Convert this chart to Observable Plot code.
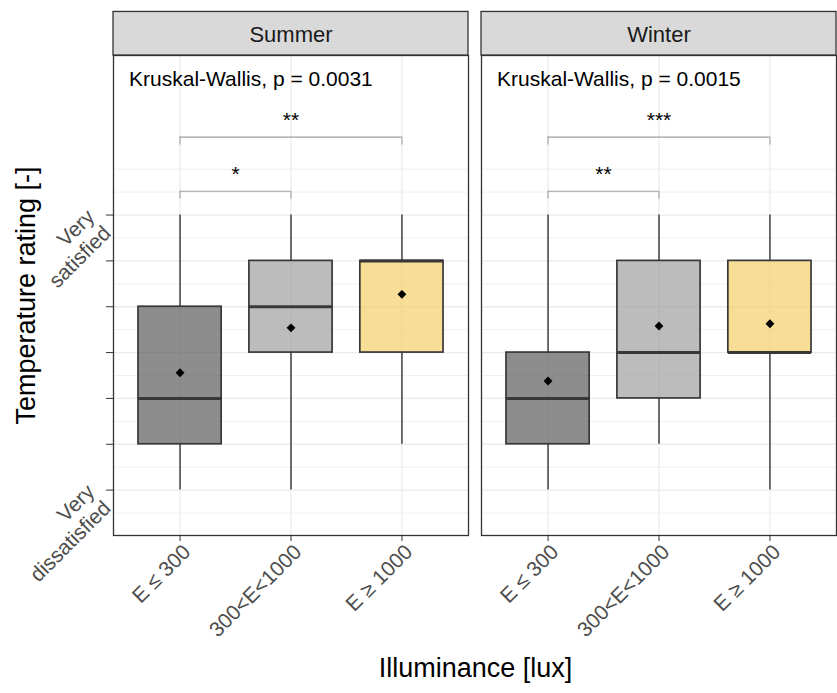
<!DOCTYPE html>
<html>
<head>
<meta charset="utf-8">
<script src="https://cdn.jsdelivr.net/npm/d3@7"></script>
<script src="https://cdn.jsdelivr.net/npm/@observablehq/plot@0.6"></script>
<style>
  body { margin: 0; background: #fff; }
  #chart svg { display: block; }
</style>
</head>
<body>
<div id="chart"></div>
<script>
// Facets and illuminance groups
const seasons = ["Summer", "Winter"];
const groups = ["E ≤ 300", "300<E<1000", "E ≥ 1000"];
const groupFills = ["#5c5c5c", "#a0a0a0", "#f4ce6a"];

// Box statistics per season, in group order (rating 1 = very dissatisfied … 7 = very satisfied)
const summerLow = [1, 1, 2];
const summerQ1 = [2, 4, 4];
const summerMedian = [3, 5, 6];
const summerQ3 = [5, 6, 6];
const summerHigh = [7, 7, 7];
const summerMean = [3.56, 4.54, 5.27];

const winterLow = [1, 2, 1];
const winterQ1 = [2, 3, 4];
const winterMedian = [3, 4, 4];
const winterQ3 = [4, 6, 6];
const winterHigh = [7, 7, 7];
const winterMean = [3.38, 4.58, 4.63];

// Global test per season
const kruskalLabels = ["Kruskal-Wallis, p = 0.0031", "Kruskal-Wallis, p = 0.0015"];

// Pairwise comparisons (group indices, bracket height, significance)
const pairFrom = [1, 1];
const pairTo = [2, 3];
const pairHeight = [7.52, 8.70];
const summerStars = ["*", "**"];
const winterStars = ["**", "***"];

// Axis ticks
const groupTicks = [1, 2, 3];
const ratingTicks = [1, 2, 3, 4, 5, 6, 7];
const ratingMinor = [0.5, 1.5, 2.5, 3.5, 4.5, 5.5, 6.5, 7.5, 8];
const ratingLabels = {1: "Very\ndissatisfied", 7: "Very\nsatisfied"};

// Layout constants (data units)
const yMin = 0.01, yMax = 10.48;
const stripTop = 11.43;
const tipLength = 0.17;
const boxHalf = 0.375;
const kruskalX = 0.54, kruskalY = 9.96;

const stats = {
  Summer: {low: summerLow, q1: summerQ1, median: summerMedian, q3: summerQ3, high: summerHigh, mean: summerMean},
  Winter: {low: winterLow, q1: winterQ1, median: winterMedian, q3: winterQ3, high: winterHigh, mean: winterMean}
};

const boxes = seasons.flatMap(season => groups.map((group, i) => ({
  season, group, pos: i + 1,
  low: stats[season].low[i], q1: stats[season].q1[i], median: stats[season].median[i],
  q3: stats[season].q3[i], high: stats[season].high[i], mean: stats[season].mean[i]
})));

const brackets = seasons.flatMap(season => pairFrom.map((from, j) => ({
  season, from, to: pairTo[j], y: pairHeight[j],
  stars: (season === "Summer" ? summerStars : winterStars)[j]
})));

const kruskal = seasons.map((season, i) => ({season, label: kruskalLabels[i]}));

const font = "'Liberation Sans', Arial, Helvetica, sans-serif";

const chart = Plot.plot({
  width: 837,
  height: 693,
  marginLeft: 112,
  marginRight: 1,
  marginTop: 55,
  marginBottom: 158,
  style: {fontFamily: font, background: "#fff", overflow: "visible"},
  fx: {domain: seasons, paddingInner: 0.0366, paddingOuter: 0, axis: null},
  x: {domain: [0.4, 3.6], axis: null},
  y: {domain: [yMin, yMax], axis: null},
  color: {domain: groups, range: groupFills},
  marks: [
    // panel grid
    Plot.ruleY(ratingMinor, {stroke: "#ececec", strokeWidth: 0.8}),
    Plot.ruleY(ratingTicks, {stroke: "#ebebeb", strokeWidth: 1.3}),
    Plot.ruleX(groupTicks, {stroke: "#ebebeb", strokeWidth: 1.3}),

    // whiskers
    Plot.ruleX(boxes, {fx: "season", x: "pos", y1: "low", y2: "q1", stroke: "#333", strokeWidth: 1.4}),
    Plot.ruleX(boxes, {fx: "season", x: "pos", y1: "q3", y2: "high", stroke: "#333", strokeWidth: 1.4}),

    // boxes
    Plot.rect(boxes, {
      fx: "season",
      x1: d => d.pos - boxHalf, x2: d => d.pos + boxHalf,
      y1: "q1", y2: "q3",
      fill: "group", fillOpacity: 0.7,
      stroke: "#383838", strokeWidth: 1.7
    }),

    // medians
    Plot.ruleY(boxes, {
      fx: "season", y: "median",
      x1: d => d.pos - boxHalf, x2: d => d.pos + boxHalf,
      stroke: "#383838", strokeWidth: 3
    }),

    // means
    Plot.dot(boxes, {fx: "season", x: "pos", y: "mean", symbol: "diamond2", r: 4, fill: "#000", stroke: "none"}),

    // significance brackets
    Plot.ruleY(brackets, {fx: "season", y: "y", x1: "from", x2: "to", stroke: "#a0a0a0", strokeWidth: 1.1}),
    Plot.ruleX(brackets, {fx: "season", x: "from", y1: "y", y2: d => d.y - tipLength, stroke: "#a0a0a0", strokeWidth: 1.1}),
    Plot.ruleX(brackets, {fx: "season", x: "to", y1: "y", y2: d => d.y - tipLength, stroke: "#a0a0a0", strokeWidth: 1.1}),
    Plot.text(brackets, {
      fx: "season", x: d => (d.from + d.to) / 2, y: "y", text: "stars",
      dy: -17, fontSize: 21, fill: "#000"
    }),

    // Kruskal-Wallis label
    Plot.text(kruskal, {
      fx: "season", x: () => kruskalX, y: () => kruskalY, text: "label",
      textAnchor: "start", fontSize: 21, fill: "#000"
    }),

    // panel border
    Plot.frame({stroke: "#333", strokeWidth: 1.3}),

    // facet strips
    Plot.rect(seasons, {fx: d => d, y1: () => yMax, y2: () => stripTop, fill: "#d9d9d9", stroke: "#333", strokeWidth: 1.3}),
    Plot.text(seasons, {fx: d => d, y: () => (yMax + stripTop) / 2, text: d => d, fontSize: 22, fill: "#1a1a1a", dy: 1}),

    // x axis: tick marks, then rotated group labels
    Plot.axisX({ticks: groupTicks, tickSize: 6, tickFormat: () => "", label: null, stroke: "#333"}),
    Plot.axisX({
      ticks: groupTicks, tickFormat: i => groups[i - 1],
      tickRotate: -45, tickSize: 0, tickPadding: 9, fontSize: 21, label: null,
      dx: 7, dy: 4, fill: "#4d4d4d"
    }),

    // y axis: tick marks, then rotated end labels
    Plot.axisY({ticks: ratingTicks, tickSize: 7, tickFormat: () => "", label: null, stroke: "#333"}),
    Plot.axisY({
      ticks: ratingTicks, tickFormat: d => ratingLabels[d] ?? "",
      tickRotate: -45, tickSize: 0, tickPadding: 10, fontSize: 21, lineHeight: 1.1, label: null,
      dx: -5, dy: 6, fill: "#4d4d4d"
    }),

    // axis titles
    Plot.text(["Temperature rating [-]"], {
      fx: () => "Summer", frameAnchor: "left", textAnchor: "middle", text: d => d,
      rotate: -90, dx: -87, fontSize: 27, fill: "#000"
    }),
    Plot.text(["Illuminance [lux]"], {
      fx: () => "Summer", frameAnchor: "bottom-right", textAnchor: "middle", text: d => d,
      dx: 7, dy: 141, fontSize: 27, fill: "#000"
    })
  ]
});

document.getElementById("chart").append(chart);
</script>
</body>
</html>
